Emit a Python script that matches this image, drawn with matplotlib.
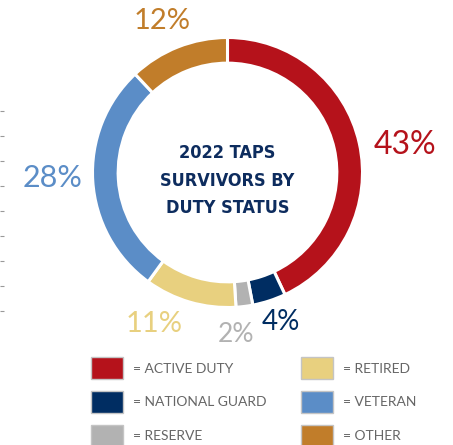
import matplotlib
matplotlib.use('Agg')
from matplotlib import pyplot as plt
from matplotlib.patches import Patch
import numpy as np

# duty status shares (%), clockwise from 12 o'clock
status = ['ACTIVE DUTY', 'NATIONAL GUARD', 'RESERVE', 'RETIRED', 'VETERAN', 'OTHER']
share = [43, 4, 2, 11, 28, 12]
colors = ['#b5121b', '#002d62', '#b2b2b2', '#e8d07f', '#5b8dc7', '#c17d2a']
title = '2022 TAPS\nSURVIVORS BY\nDUTY STATUS'

# label placement: size, radius (x donut radius), angle shift from wedge middle (deg)
label_sizes = [23, 20, 19, 21, 22, 21]
label_r = [1.33, 1.18, 1.20, 1.245, 1.30, 1.22]
label_dang = [-3.8, 1.7, -4.2, -9.7, -1.8, 1.8]

W, H = 453, 445
fig = plt.figure(figsize=(W/100., H/100.), dpi=100)

# donut, centre (227.5,172.5) px, radius 135 px
cx, cy, R, half = 227.5, 172.5, 135., 150.
ax = fig.add_axes(((cx-half)/W, (H-cy-half)/H, 2*half/W, 2*half/H))
wedges, texts = ax.pie(share, colors=colors, startangle=90, counterclock=False, radius=1.0,
                       wedgeprops=dict(width=0.19, edgecolor='white', linewidth=2.2))
ax.set_xlim(-half/R, half/R)
ax.set_ylim(-half/R, half/R)
ax.set_aspect('equal')
ax.axis('off')

for w, v, c, s, r, da in zip(wedges, share, colors, label_sizes, label_r, label_dang):
    ang = np.deg2rad((w.theta1 + w.theta2)/2. + da)
    ax.text(r*np.cos(ang), r*np.sin(ang), '%d%%' % v, ha='center', va='center',
            color=c, fontsize=s, family=['Lato', 'DejaVu Sans'])

ax.text(0, -0.06, title, ha='center', va='center', color='#0d2c5e', fontsize=13,
        fontweight='bold', fontstretch='condensed', linespacing=1.65,
        family=['DejaVu Sans'])

# faint tick marks along the left edge
axl = fig.add_axes((0.0, (H-310.7)/H, 0.02, 200./H))
axl.set_ylim(0, 8)
axl.set_yticks(np.arange(9))
axl.set_xticks([])
axl.tick_params(axis='y', direction='in', length=3, color='#999999', labelleft=False)
for sp in axl.spines.values():
    sp.set_visible(False)
axl.patch.set_alpha(0)

handles = [Patch(facecolor=c, edgecolor='#c4c4c4', linewidth=1) for c in colors]
fig.legend(handles, ['= ' + s for s in status], ncol=2, frameon=False,
           loc='upper left', bbox_to_anchor=(91./W, 1-357./H),
           prop={'family': ['Lato', 'DejaVu Sans'], 'size': 10}, labelcolor='#666666',
           handlelength=2.3, handleheight=2.1, handletextpad=0.75,
           labelspacing=0.82, columnspacing=2.45, borderpad=0, borderaxespad=0)

plt.savefig('out.png', dpi=100)
